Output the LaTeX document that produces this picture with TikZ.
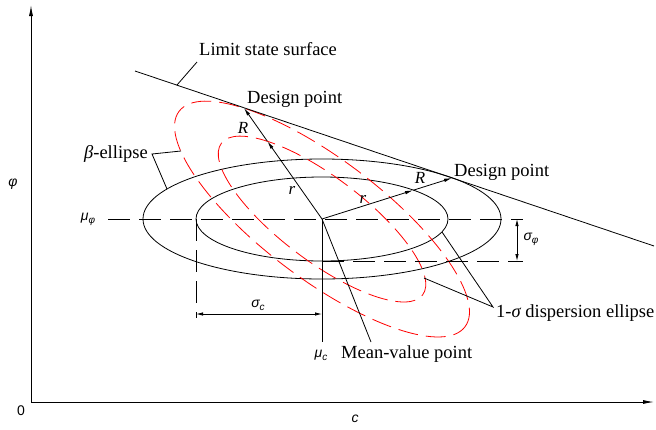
\documentclass[tikz,border=0pt]{standalone}
\usepackage{fontspec}
\setmainfont{Liberation Serif}
\setsansfont{Liberation Sans}
\usetikzlibrary{arrows.meta,calc}
\newcommand\mysub[1]{\raisebox{-0.4ex}{\fontsize{10}{10}\selectfont #1}}
\begin{document}
\begin{tikzpicture}[x=1pt,y=-1pt,
  ln/.style={line width=0.8pt},
  dsh/.style={line width=0.8pt,dash pattern=on 22pt off 9pt},
  rdsh/.style={line width=0.8pt,red,dash pattern=on 20pt off 8pt},
  lbl/.style={inner sep=0pt,font=\fontsize{18.5}{21}\selectfont},
  ital/.style={inner sep=0pt,font=\fontsize{17}{20}\selectfont\itshape},
  sym/.style={inner sep=0pt,font=\fontsize{14}{16}\selectfont\sffamily\itshape},
  tipA/.style={line width=0.8pt,-{Latex[length=8pt,width=3.5pt]}},
  axis/.style={line width=0.9pt,-{Latex[length=11pt,width=4pt]}},
  dim/.style={line width=0.8pt,{Latex[length=7pt,width=3.5pt]}-{Latex[length=7pt,width=3.5pt]}}
]
\useasboundingbox (0,0) rectangle (656,429);
% axes
\coordinate (O) at (31,402);
\coordinate (Ytop) at (31,5);
\coordinate (Xend) at (654,402);
\draw[axis] (O) -- (Ytop);
\draw[axis] (O) -- (Xend);
\node[sym,font=\fontsize{14}{16}\selectfont\sffamily] (zero) at (21,411) {0};
\node[sym] (phiax) at (13,184) {φ};
\node[sym] (cax) at (355,419) {c};

% mean point
\coordinate (M) at (322,219);

% ellipses
\draw[ln] (M) ellipse [x radius=179pt, y radius=60pt];
\draw[ln] (M) ellipse [x radius=126pt, y radius=42pt];
\draw[rdsh, rotate around={-37:(M)}] (M) ellipse [x radius=179pt, y radius=60pt];
\draw[rdsh, rotate around={-37:(M)}] (M) ellipse [x radius=126pt, y radius=42pt];

% limit state line
\coordinate (L1) at (135,71);
\coordinate (L2) at (654,246);
\draw[ln] (L1) -- (L2);
\coordinate (DP1) at (244,108);
\coordinate (DP2) at (452,178);

% R / r vectors
\coordinate (m1) at ($(M)!0.70!(DP1)$);
\coordinate (m2) at ($(M)!0.70!(DP2)$);
\draw[tipA] (M) -- (m1);
\draw[tipA] (m1) -- (DP1);
\draw[tipA] (M) -- (m2);
\draw[tipA] (m2) -- (DP2);
\node[ital] (R1) at (243,128) {R};
\node[ital] (r1) at (292,190) {r};
\node[ital] (R2) at (420,178) {R};
\node[ital] (r2) at (363,199) {r};

% dashed reference lines
\coordinate (hp1) at (108,219);
\coordinate (hp2) at (523,219);
\draw[dsh] (hp1) -- (hp2);
\coordinate (hq1) at (322,261);
\coordinate (hq2) at (523,261);
\draw[dsh] (hq1) -- (hq2);
\coordinate (vd1) at (196,219);
\coordinate (vd2) at (196,318);
\draw[dsh] (vd1) -- (vd2);
\coordinate (vm) at (322,342);
\draw[ln] (M) -- (vm);

% dimensions
\coordinate (sp1) at (517,219);
\coordinate (sp2) at (517,261);
\draw[dim] (sp1) -- (sp2);
\node[sym] (sphi) at (531,239) {σ\mysub{φ}};
\coordinate (sc1) at (196,314);
\coordinate (sc2) at (322,314);
\draw[dim] (sc1) -- (sc2);
\node[sym] (sc) at (258,305) {σ\mysub{c}};
\node[sym] (muphi) at (88,219) {μ\mysub{φ}};
\node[sym] (muc) at (321,355) {μ\mysub{c}};

% labels
\node[lbl,anchor=base west] (lss) at (199,55) {Limit state surface};
\coordinate (lssa) at (177,85);
\coordinate (lssb) at (197,62);
\draw[ln] (lssa) -- (lssb);
\node[lbl,anchor=base west] (dp1t) at (247,103) {Design point};
\node[lbl,anchor=base west] (dp2t) at (454,176) {Design point};

\node[lbl,anchor=east] (beta) at (148,154) {\itshape β\upshape-ellipse};
\coordinate (bj) at (152,154);
\coordinate (bred) at (181,151);
\coordinate (bblk) at (167,189);
\draw[ln] (bred) -- (bj) -- (bblk);

\node[lbl,anchor=base west] (mvp) at (341,358) {Mean-value point};
\coordinate (mva) at (371,342);
\draw[ln] (M) -- (mva);

\node[lbl,anchor=base west] (disp) at (496,317) {1-\itshape σ\upshape\ dispersion ellipse};
\coordinate (dj) at (493,307);
\coordinate (dblk) at (442,232);
\coordinate (dred) at (424,278);
\draw[ln] (dblk) -- (dj) -- (dred);
\end{tikzpicture}
\end{document}
